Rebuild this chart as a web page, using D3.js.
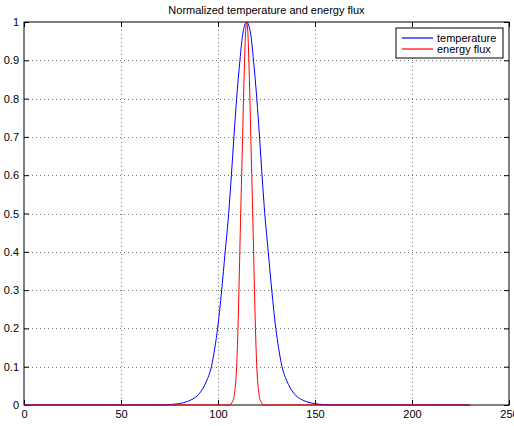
<!DOCTYPE html>
<html>
<head>
<meta charset="utf-8">
<script src="https://cdn.jsdelivr.net/npm/d3@7"></script>
<style>
  body { margin: 0; background: #fff; }
  svg { display: block; font-family: "Liberation Sans", Arial, Helvetica, sans-serif; }
</style>
</head>
<body>
<svg width="514" height="426"></svg>
<script>
// values
var xTicks = [0, 50, 100, 150, 200, 250];
var yTicks = [0, 0.1, 0.2, 0.3, 0.4, 0.5, 0.6, 0.7, 0.8, 0.9, 1];
var yTickLabels = ['0', '0.1', '0.2', '0.3', '0.4', '0.5', '0.6', '0.7', '0.8', '0.9', '1'];

var tempX = [0, 60, 70.8, 77.3, 82.2, 86.0, 90.4, 94.3, 96.6, 98.4, 99.8, 101.9, 103.7, 105.5, 106.9, 108.2, 109.6, 111.3, 112.8,
  114.8, 116.8, 118.3, 120.0, 121.4, 122.7, 124.1, 125.9, 127.7, 129.8, 131.2, 133.0, 135.3, 139.2, 143.6, 147.4, 152.3, 158.8, 230];
var tempY = [0, 0, 0, 0.002, 0.006, 0.013, 0.03, 0.065, 0.1, 0.15, 0.2, 0.3, 0.4, 0.5, 0.6, 0.7, 0.8, 0.9, 0.97,
  1, 0.97, 0.9, 0.8, 0.7, 0.6, 0.5, 0.4, 0.3, 0.2, 0.15, 0.1, 0.065, 0.03, 0.013, 0.006, 0.002, 0, 0];

var fluxX = [0, 100, 105.9, 107.6, 108.5, 109.6, 110.3, 110.8, 111.25, 111.7, 112.2, 112.7, 113.15, 113.7, 114.1,
  114.8, 115.5, 115.9, 116.45, 116.9, 117.4, 117.9, 118.35, 118.8, 119.3, 120.0, 121.1, 122.0, 123.7, 130, 230];
var fluxY = [0, 0, 0, 0.01, 0.03, 0.1, 0.2, 0.3, 0.4, 0.5, 0.6, 0.7, 0.8, 0.9, 0.96,
  1, 0.96, 0.9, 0.8, 0.7, 0.6, 0.5, 0.4, 0.3, 0.2, 0.1, 0.03, 0.01, 0, 0, 0];

var seriesNames = ['temperature', 'energy flux'];
var seriesColors = ['#0000ff', '#ff0000'];
var title = 'Normalized temperature and energy flux';

var svg = d3.select('svg');
var plotLeft = 24, plotRight = 509, plotTop = 22, plotBottom = 405;

var x = d3.scaleLinear().domain([0, 250]).range([plotLeft, plotRight]);
var y = d3.scaleLinear().domain([0, 1]).range([plotBottom, plotTop]);

// grid
var grid = svg.append('g')
  .attr('stroke', '#777')
  .attr('stroke-width', 1)
  .attr('stroke-dasharray', '1,3');
grid.selectAll('.gx').data(xTicks.slice(1, -1)).enter().append('line')
  .attr('x1', function (d) { return Math.round(x(d)) + 0.5; })
  .attr('x2', function (d) { return Math.round(x(d)) + 0.5; })
  .attr('y1', plotTop).attr('y2', plotBottom);
grid.selectAll('.gy').data(yTicks.slice(1, -1)).enter().append('line')
  .attr('y1', function (d) { return Math.round(y(d)) + 0.5; })
  .attr('y2', function (d) { return Math.round(y(d)) + 0.5; })
  .attr('x1', plotLeft).attr('x2', plotRight);

// axes, ticks pointing inward
function styleAxis(g) {
  g.select('.domain').remove();
  g.selectAll('line').attr('stroke', '#000');
  g.selectAll('text').attr('font-size', 11).attr('fill', '#000')
    .attr('font-family', '"Liberation Sans", Arial, Helvetica, sans-serif');
}
svg.append('g').attr('transform', 'translate(0,' + plotBottom + ')')
  .call(d3.axisBottom(x).tickValues(xTicks).tickSizeInner(-5).tickSizeOuter(0).tickPadding(5))
  .call(styleAxis);
svg.append('g').attr('transform', 'translate(0,' + plotTop + ')')
  .call(d3.axisTop(x).tickValues(xTicks).tickSizeInner(-5).tickSizeOuter(0).tickFormat(''))
  .call(styleAxis);
svg.append('g').attr('transform', 'translate(' + plotLeft + ',0)')
  .call(d3.axisLeft(y).tickValues(yTicks).tickSizeInner(-5).tickSizeOuter(0).tickPadding(5)
    .tickFormat(function (d, i) { return yTickLabels[i]; }))
  .call(styleAxis);
svg.append('g').attr('transform', 'translate(' + plotRight + ',0)')
  .call(d3.axisRight(y).tickValues(yTicks).tickSizeInner(-5).tickSizeOuter(0).tickFormat(''))
  .call(styleAxis);

// box
svg.append('rect')
  .attr('x', plotLeft).attr('y', plotTop)
  .attr('width', plotRight - plotLeft).attr('height', plotBottom - plotTop)
  .attr('fill', 'none').attr('stroke', '#000').attr('stroke-width', 1);

// curves, drawn over the box like the reference
var line = d3.line()
  .x(function (d) { return x(d[0]); })
  .y(function (d) { return y(d[1]); })
  .curve(d3.curveMonotoneX);

var series = [d3.zip(tempX, tempY), d3.zip(fluxX, fluxY)];
series.forEach(function (pts, i) {
  svg.append('path')
    .datum(pts)
    .attr('fill', 'none')
    .attr('stroke', seriesColors[i])
    .attr('stroke-width', 1)
    .attr('d', line);
});

// title
svg.append('text')
  .attr('x', (plotLeft + plotRight) / 2).attr('y', 14)
  .attr('text-anchor', 'middle')
  .attr('font-size', 11)
  .text(title);

// legend
var legend = svg.append('g').attr('transform', 'translate(396,28)');
legend.append('rect')
  .attr('width', 107).attr('height', 30)
  .attr('fill', '#fff').attr('stroke', '#000').attr('stroke-width', 1);
seriesNames.forEach(function (name, i) {
  var ly = 10 + i * 11;
  legend.append('line')
    .attr('x1', 6).attr('x2', 37)
    .attr('y1', ly).attr('y2', ly)
    .attr('stroke', seriesColors[i]).attr('stroke-width', 1.2);
  legend.append('text')
    .attr('x', 41).attr('y', ly).attr('dy', '0.35em')
    .attr('font-size', 11)
    .text(name);
});
</script>
</body>
</html>
